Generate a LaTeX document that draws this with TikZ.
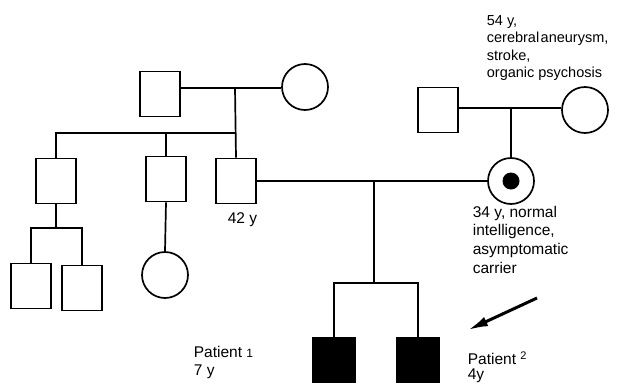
\documentclass[tikz,border=0pt]{standalone}
\usepackage{fontspec}
\setmainfont{Liberation Sans}
\usetikzlibrary{arrows.meta}

\begin{document}
\begin{tikzpicture}[x=1pt, y=-1pt, line width=1.7pt,
  every node/.style={inner sep=0pt, line width=1.7pt},
  male/.style={draw, rectangle, minimum width=40pt, minimum height=45pt},
  female/.style={draw, circle, minimum size=46pt},
  affected/.style={male, fill=black, minimum width=42pt},
  carrier/.style={female, path picture={\fill (path picture bounding box.center) circle (8.5pt);}},
  note/.style={align=left, anchor=base west, font=\fontsize{15.5}{17.5}\selectfont}
]
\useasboundingbox (0,0) rectangle (617,383);
% first generation
\node[male] (gf) at (160,94) {};
\node[female] (gm) at (305,87) {};
\node[male] (rgf) at (438,110) {};
\node[female] (rgm) at (585,110) {};
% second generation
\node[male] (c1) at (56,181) {};
\node[male] (c2) at (166,179) {};
\node[male] (c3) at (236,181) {};
\node[carrier] (mo) at (511,181) {};
% third generation
\node[male] (gc1) at (31,286) {};
\node[male] (gc2) at (82,288) {};
\node[female] (gc3) at (165,275) {};
\node[affected] (p1) at (334,360) {};
\node[affected] (p2) at (418,360) {};

\coordinate (m1) at (235,88);
\coordinate (s1) at (235,133);
\coordinate (s2) at (56,228);
\coordinate (m2) at (511,108);
\coordinate (m3) at (374,181);
\coordinate (s3) at (374,283);

\draw (m1 -| gf.east) -- (m1 -| gm.west);
\draw (m1) -- (c3.north);
\draw (c1.north) |- (s1);
\draw (c2.north) -- (c2.north |- s1);
\draw (c1.south) -- (s2);
\draw (gc1.north) |- (s2) -| (gc2.north);
\draw (c2.south) -- (gc3.north);
\draw (m2 -| rgf.east) -- (m2 -| rgm.west);
\draw (m2) -- (mo.north);
\draw (c3.east) -- (mo.west);
\draw (m3) -- (s3);
\draw (p1.north) |- (s3) -| (p2.north);

% proband arrow
\coordinate (ptr) at (537,298);
\coordinate (tip) at (468,330);
\draw[-{Latex[length=20pt,width=10pt]}, line width=3pt] (ptr) -- (tip);

% labels (base = last line)
\node[note, font=\fontsize{14.5}{17.5}\selectfont] (t1) at (486,77.5) {54 y,\\cerebral\hspace{1.5pt}aneurysm,\\stroke,\\organic psychosis};
\node[note, font=\fontsize{15.5}{18.6}\selectfont] (t2) at (472,273) {34 y, normal\\intelligence,\\asymptomatic\\carrier};
\node[note] (t3) at (227,223) {42 y};
\node[note, font=\fontsize{15.5}{18}\selectfont] (t4) at (193,375) {Patient {\fontsize{12}{12}\selectfont 1}\\7 y};
\node[note, font=\fontsize{15.5}{15}\selectfont] (t5) at (467,379) {Patient \raisebox{5pt}{\fontsize{11}{11}\selectfont 2}\\4y};
\end{tikzpicture}
\end{document}
